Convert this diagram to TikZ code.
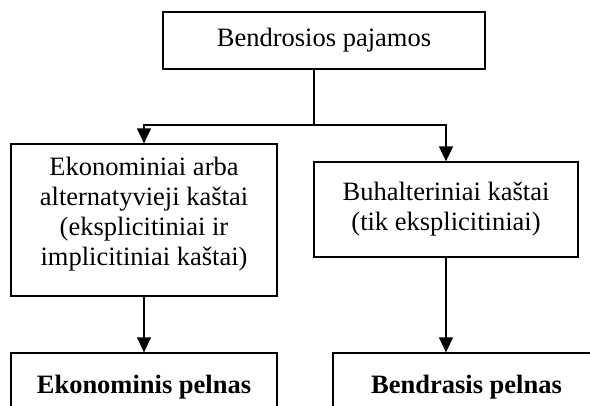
\documentclass[tikz,border=0pt]{standalone}
\usepackage{fontspec}
\setmainfont{Liberation Serif}
\usetikzlibrary{arrows.meta,positioning,calc}

\begin{document}
\begin{tikzpicture}[
    x=1pt, y=-1pt,
    every node/.style={font=\fontsize{26.5}{30}\selectfont, align=center},
    box/.style={draw, line width=1.3pt, inner sep=0pt},
    result/.style={box, font=\fontsize{26.5}{30}\selectfont\bfseries},
    arr/.style={line width=1.3pt, -{Triangle[width=14pt, length=15pt]}},
]

% Frame
\useasboundingbox (0,0) rectangle (590,405);
\clip (0,0) rectangle (590,405);

% Boxes
\node[box, minimum width=322, minimum height=57] (income) at (324,40.5) {Bendrosios pajamos};
\node[box, minimum width=266, minimum height=152, text depth=18pt] (econcost) at (144,220)
    {Ekonominiai arba\\alternatyvieji kaštai\\(eksplicitiniai ir\\implicitiniai kaštai)};
\node[box, minimum width=264, minimum height=95] (acctcost) at (446,209.5)
    {Buhalteriniai kaštai\\(tik eksplicitiniai)};
\node[result, minimum width=266, minimum height=68] (econprofit) at (144,387) {Ekonominis pelnas};
\node[result, minimum width=267, minimum height=68] (acctprofit) at (466.5,387) {Bendrasis pelnas};

% Connectors
\coordinate (split) at (314,125);
\draw[line width=1.3pt] (income.south -| split) -- (split);
\draw[arr] (split) -| (econcost.north);
\draw[arr] (split) -| (acctcost.north);
\draw[arr] (econcost.south) -- (econprofit.north);
\draw[arr] (acctcost.south) -- (acctcost.south |- acctprofit.north);

\end{tikzpicture}
\end{document}
